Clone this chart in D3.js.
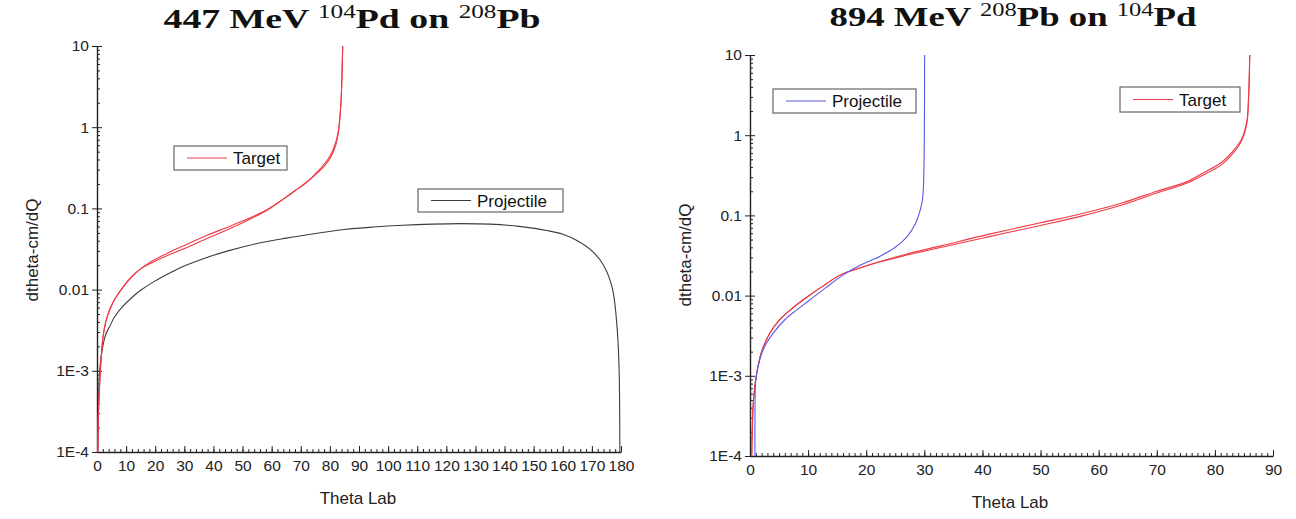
<!DOCTYPE html>
<html>
<head>
<meta charset="utf-8">
<script src="https://cdn.jsdelivr.net/npm/d3@7"></script>
<style>
  html, body { margin: 0; padding: 0; background: #fff; }
  svg { display: block; }
</style>
</head>
<body>
<svg id="chart" width="1296" height="519"></svg>
<script>
// ---------- DATA ----------
const yTickValues = [1e-4, 1e-3, 0.01, 0.1, 1, 10];
const yTickLabels = ["1E-4", "1E-3", "0.01", "0.1", "1", "10"];
const xTicksLeft = [0,10,20,30,40,50,60,70,80,90,100,110,120,130,140,150,160,170,180];
const xTicksRight = [0,10,20,30,40,50,60,70,80,90];

// Left panel: 447 MeV 104Pd on 208Pb  [theta lab, dtheta-cm/dQ]
const leftTargetA = [[0.3,1e-4],[0.5,3e-4],[1,8e-4],[2,2.5e-3],[3,4e-3],[4.5,5.8e-3],[6,7.5e-3],[9,0.0108],[12,0.0145],[15,0.018],[19,0.0215],[25,0.027],[30,0.032],[38,0.043],[45,0.055],[52,0.072],[58,0.093],[64,0.13],[68,0.165],[72,0.21],[76,0.28],[78,0.33],[80,0.41],[82,0.6],[83,0.9],[83.8,2],[84.2,5],[84.4,10]];
const leftTargetB = [[0.3,1e-4],[0.5,3e-4],[1,8e-4],[2,2.5e-3],[3,4e-3],[4.5,5.8e-3],[6,7.5e-3],[9,0.0108],[12,0.0145],[15,0.018],[19,0.0225],[25,0.029],[30,0.035],[38,0.047],[45,0.059],[52,0.075],[58,0.095],[64,0.13],[68,0.165],[72,0.21],[76,0.29],[78,0.35],[80,0.44],[82,0.65],[83,0.95],[83.8,2],[84.2,5],[84.4,10]];
const leftProjectile = [[0.2,1e-4],[0.5,4e-4],[1,1.1e-3],[2,2e-3],[3,2.8e-3],[4.5,3.6e-3],[6,4.6e-3],[9,6.3e-3],[12,8e-3],[15,9.8e-3],[20,0.0128],[25,0.016],[30,0.0195],[38,0.025],[45,0.03],[55,0.037],[65,0.043],[75,0.049],[85,0.055],[95,0.059],[105,0.062],[115,0.064],[125,0.065],[135,0.064],[145,0.06],[155,0.053],[160,0.048],[165,0.04],[170,0.03],[174,0.02],[177,0.0105],[178.5,4e-3],[179.3,1.2e-3],[179.6,1e-4]];

// Right panel: 894 MeV 208Pb on 104Pd
const rightProjectile = [[0.85,1e-4],[0.88,5e-4],[1.0,9e-4],[1.7,1.6e-3],[2.5,2.3e-3],[4,3.4e-3],[6,5e-3],[8,6.6e-3],[10,8.5e-3],[13,0.0125],[16,0.018],[19,0.024],[22.4,0.031],[25,0.04],[27,0.054],[28.5,0.08],[29.3,0.117],[29.7,0.16],[29.9,0.3],[30,1],[30.05,10]];
const rightTargetA = [[0.3,1e-4],[0.6,5e-4],[1.15,1.07e-3],[2,2e-3],[3.4,3.4e-3],[5,4.9e-3],[6.9,6.6e-3],[10,9.8e-3],[13,0.0138],[15.5,0.018],[18,0.021],[22,0.026],[27,0.032],[33,0.04],[41,0.054],[50,0.075],[57,0.098],[64,0.135],[70,0.19],[75,0.25],[78,0.32],[81,0.42],[83,0.58],[84.6,0.85],[85.5,1.4],[85.8,3],[86,10]];
const rightTargetB = [[0.3,1e-4],[0.6,5e-4],[1.15,1.07e-3],[2,2e-3],[3.4,3.4e-3],[5,4.9e-3],[6.9,6.6e-3],[10,9.8e-3],[13,0.0138],[15.5,0.018],[18,0.021],[22,0.026],[27,0.033],[33,0.042],[41,0.058],[50,0.081],[57,0.105],[64,0.143],[70,0.2],[75,0.26],[78,0.34],[81,0.45],[83,0.62],[84.6,0.9],[85.5,1.5],[85.8,3],[86,10]];

// ---------- DRAW ----------
const svg = d3.select("#chart");
const RED = "#ee3a46", BLUE = "#5a5ae6", BLACK = "#3c3c3c";
const SANS = "Liberation Sans, Arial, sans-serif";

function minorLogTicks() {
  const t = [];
  for (let e = -4; e < 1; e++) for (let m = 2; m <= 9; m++) t.push(m * Math.pow(10, e));
  return t;
}

function drawPanel(cfg) {
  const g = svg.append("g");
  const x = d3.scaleLinear().domain(cfg.xDomain).range([cfg.x0, cfg.x1]);
  const y = d3.scaleLog().domain([1e-4, 10]).range([cfg.y0, cfg.y1]);

  const clipId = "clip" + cfg.id;
  svg.append("clipPath").attr("id", clipId).append("rect")
    .attr("x", cfg.x0 - 2).attr("y", cfg.y1).attr("width", cfg.x1 - cfg.x0 + 4).attr("height", cfg.y0 - cfg.y1 + 1);

  g.append("g").attr("transform", `translate(${cfg.x0},0)`)
    .call(d3.axisRight(y).tickValues(minorLogTicks()).tickSize(3).tickFormat(""))
    .call(a => a.select(".domain").remove());
  g.append("g").attr("class", "yax").attr("transform", `translate(${cfg.x0},0)`)
    .call(d3.axisLeft(y).tickValues(yTickValues).tickSizeInner(5).tickSizeOuter(0)
      .tickFormat((d, i) => yTickLabels[i]));
  g.append("g").attr("transform", `translate(${cfg.x0},0)`)
    .call(d3.axisRight(y).tickValues(yTickValues).tickSize(5).tickFormat(""))
    .call(a => a.select(".domain").remove());

  const minorX = d3.range(cfg.xDomain[0], cfg.xDomain[1] + 0.001, cfg.minorStep);
  g.append("g").attr("transform", `translate(0,${cfg.y0})`)
    .call(d3.axisTop(x).tickValues(minorX).tickSize(3).tickFormat(""))
    .call(a => a.select(".domain").remove());
  g.append("g").attr("class", "xax").attr("transform", `translate(0,${cfg.y0})`)
    .call(d3.axisBottom(x).tickValues(cfg.xTicks).tickSizeInner(0).tickSizeOuter(0).tickPadding(8).tickFormat(d3.format("d")));
  g.append("g").attr("transform", `translate(0,${cfg.y0})`)
    .call(d3.axisTop(x).tickValues(cfg.xTicks).tickSize(6).tickFormat(""))
    .call(a => a.select(".domain").remove());

  g.selectAll(".domain").attr("stroke", "#222").attr("stroke-width", 1.4);
  g.selectAll(".tick line").attr("stroke", "#222").attr("stroke-width", 1);
  g.selectAll(".tick text").attr("font-family", SANS).attr("font-size", 15.5).attr("fill", "#222");
  g.selectAll(".yax .tick text").attr("x", -8);

  g.append("text").attr("x", cfg.xLabelX).attr("y", cfg.y0 + 52).attr("text-anchor", "middle")
    .attr("font-family", SANS).attr("font-size", 17).attr("fill", "#222").text("Theta Lab");
  g.append("text").attr("transform", `translate(${cfg.yLabelX},${cfg.yLabelY}) rotate(-90)`)
    .attr("text-anchor", "middle").attr("font-family", SANS)
    .attr("font-size", 17).attr("fill", "#222").text("dtheta-cm/dQ");

  // title with superscripts
  const t = g.append("text").attr("x", cfg.titleX).attr("y", cfg.titleY).attr("text-anchor", "middle")
    .attr("font-family", "Liberation Serif, Times New Roman, serif").attr("font-weight", "bold")
    .attr("font-size", 27).attr("fill", "#111")
    .attr("textLength", cfg.titleW).attr("lengthAdjust", "spacingAndGlyphs");
  let prevSup = false;
  cfg.title.forEach(([s, k], i) => {
    const sp = t.append("tspan").text(s);
    if (k === "sup") { sp.attr("font-size", 18).attr("font-weight", "normal").attr("dy", -10); prevSup = true; }
    else { sp.attr("dy", prevSup ? 10 : 0); prevSup = false; }
  });

  const plot = g.append("g").attr("clip-path", `url(#${clipId})`);
  cfg.series.forEach(s => {
    plot.append("path").datum(s.data).attr("fill", "none").attr("stroke", s.color)
      .attr("stroke-width", 1.1)
      .attr("d", d3.line().x(d => x(d[0])).y(d => y(d[1])).curve(d3.curveCatmullRom.alpha(0.5)));
  });

  cfg.legends.forEach(L => {
    const lg = g.append("g").attr("transform", `translate(${L.x},${L.y})`);
    lg.append("rect").attr("width", L.w).attr("height", L.h).attr("fill", "#fff")
      .attr("stroke", "#666").attr("stroke-width", 1.2);
    lg.append("line").attr("x1", 13).attr("x2", 53).attr("y1", L.h / 2).attr("y2", L.h / 2)
      .attr("stroke", L.color).attr("stroke-width", 1.1);
    lg.append("text").attr("x", 59).attr("y", L.h / 2 + 6)
      .attr("font-family", SANS).attr("font-size", 17).attr("fill", "#111").text(L.label);
  });
}

drawPanel({
  id: "L", x0: 97, x1: 621, y0: 452, y1: 46, xDomain: [0, 180], xTicks: xTicksLeft, minorStep: 2,
  xLabelX: 358, yLabelX: 38, yLabelY: 250, titleX: 352, titleY: 28, titleW: 377,
  title: [["447 MeV ",""],["104","sup"],["Pd on ",""],["208","sup"],["Pb",""]],
  series: [{data: leftProjectile, color: BLACK}, {data: leftTargetA, color: RED}, {data: leftTargetB, color: RED}],
  legends: [{x: 174, y: 146, w: 113, h: 24, color: RED, label: "Target"},
            {x: 418, y: 189, w: 145, h: 23, color: BLACK, label: "Projectile"}]
});
drawPanel({
  id: "R", x0: 750, x1: 1273, y0: 456, y1: 55, xDomain: [0, 90], xTicks: xTicksRight, minorStep: 1,
  xLabelX: 1010, yLabelX: 691, yLabelY: 255, titleX: 1013, titleY: 26, titleW: 367,
  title: [["894 MeV ",""],["208","sup"],["Pb on ",""],["104","sup"],["Pd",""]],
  series: [{data: rightTargetA, color: RED}, {data: rightTargetB, color: RED}, {data: rightProjectile, color: BLUE}],
  legends: [{x: 773, y: 89, w: 143, h: 24, color: BLUE, label: "Projectile"},
            {x: 1120, y: 87, w: 120, h: 25, color: RED, label: "Target"}]
});
</script>
</body>
</html>
